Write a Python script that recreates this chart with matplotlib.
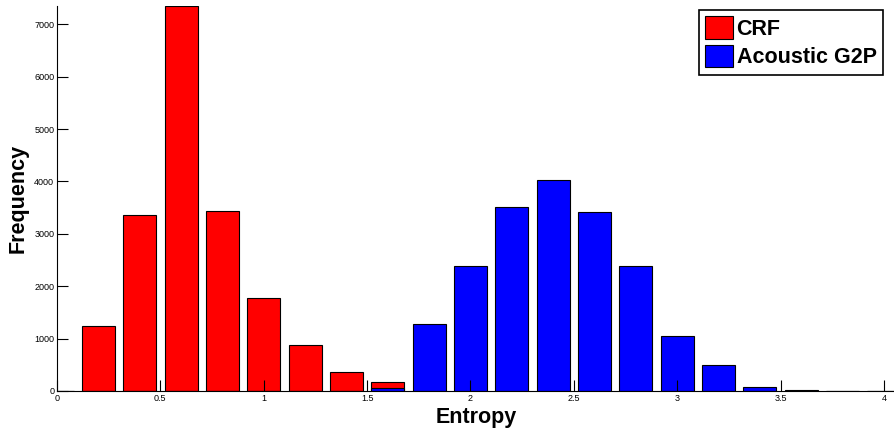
import numpy as np
import matplotlib.pyplot as plt

# bin centres and counts
centres = [0.0, 0.2, 0.4, 0.6, 0.8, 1.0, 1.2, 1.4, 1.6, 1.8, 2.0, 2.2, 2.4,
           2.6, 2.8, 3.0, 3.2, 3.4, 3.6, 3.8, 4.0]
crf = [0, 1240, 3355, 7345, 3435, 1775, 880, 360, 172, 0, 0, 0, 0,
       0, 0, 0, 0, 0, 0, 0, 0]
g2p = [0, 0, 0, 0, 0, 0, 0, 0, 60, 1280, 2390, 3510, 4025,
       3415, 2385, 1050, 495, 75, 20, 5, 5]

plt.rcParams['font.family'] = ['Liberation Sans', 'DejaVu Sans']

fig = plt.figure(figsize=(8.95, 4.28), dpi=100)
ax = fig.add_axes([57/895, 37/428, 838/895, 385/428])

ax.bar(centres, crf, width=0.16, color='#ff0000', edgecolor='black', linewidth=0.8, label='CRF')
ax.bar(centres, g2p, width=0.16, color='#0000ff', edgecolor='black', linewidth=0.8, label='Acoustic G2P')

ax.set_xlim(0, 838/206.75)
ax.set_ylim(0, 7350)
ax.set_xticks(np.arange(0, 4.01, 0.5))
ax.set_xticklabels(['0', '0.5', '1', '1.5', '2', '2.5', '3', '3.5', '4'])
ax.set_yticks(np.arange(0, 7001, 1000))
ax.tick_params(direction='in', length=8, width=0.8, labelsize=6.5, pad=2)
for s in ['top', 'right']:
    ax.spines[s].set_visible(False)

ax.set_xlabel('Entropy', fontsize=15.5, fontweight='bold', labelpad=3)
ax.set_ylabel('Frequency', fontsize=15.5, fontweight='bold', labelpad=4)

leg = ax.legend(loc='upper right', bbox_to_anchor=(826/838, 1 - 4/385), prop={'size': 15.5, 'weight': 'bold'},
                fancybox=False, edgecolor='black', framealpha=1, handlelength=1.3, handleheight=1.2,
                handletextpad=0.15, borderpad=0.3, labelspacing=0.25, borderaxespad=0)
leg.get_frame().set_linewidth(1.2)

fig.savefig('out.png', dpi=100)
